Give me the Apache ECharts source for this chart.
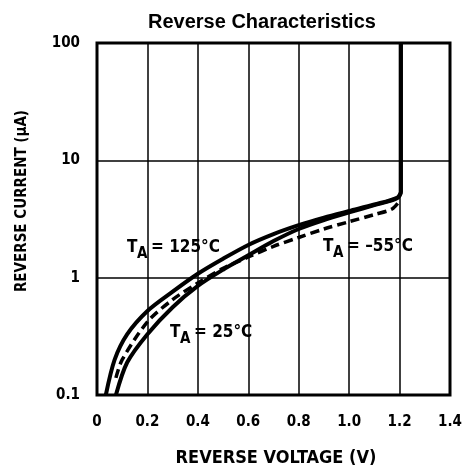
<!DOCTYPE html>
<html>
<head>
<meta charset="utf-8">
<script src="https://cdn.jsdelivr.net/npm/echarts@6/dist/echarts.min.js"></script>
<style>
  html, body { margin: 0; padding: 0; background: #fff; }
  #main { width: 465px; height: 472px; }
</style>
</head>
<body>
<div id="main"></div>
<script>
// values (V, uA)
var v125 = [0.035, 0.07, 0.12, 0.2, 0.3, 0.4, 0.5, 0.6, 0.7, 0.8, 0.9, 1.0, 1.1, 1.19, 1.205, 1.205];
var i125 = [0.1, 0.2, 0.33, 0.52, 0.76, 1.08, 1.45, 1.9, 2.35, 2.8, 3.25, 3.7, 4.2, 4.8, 5.4, 100];

var v25 = [0.075, 0.12, 0.2, 0.3, 0.4, 0.5, 0.6, 0.7, 0.8, 0.9, 1.0, 1.1, 1.19, 1.205, 1.205];
var i25 = [0.1, 0.19, 0.33, 0.56, 0.85, 1.17, 1.55, 2.05, 2.6, 3.1, 3.6, 4.15, 4.75, 5.4, 100];

var vm55 = [0.075, 0.1, 0.2, 0.3, 0.4, 0.5, 0.6, 0.7, 0.8, 0.9, 1.0, 1.1, 1.17, 1.2];
var im55 = [0.14, 0.2, 0.42, 0.65, 0.9, 1.2, 1.5, 1.85, 2.2, 2.6, 3.0, 3.45, 3.85, 4.5];

var xTicks = [0, 0.2, 0.4, 0.6, 0.8, 1.0, 1.2, 1.4];
var yTicks = [0.1, 1, 10, 100];

var font = "'Liberation Sans Narrow', 'DejaVu Sans Condensed', 'Roboto Condensed', 'Liberation Sans', sans-serif";

function pairs(xs, ys) {
  return xs.map(function (x, k) { return [x, ys[k]]; });
}

// "T" with a subscript "A", then the rest of the label
function tLabel(x, y, rest) {
  return {
    type: 'group', x: x, y: y, z: 20,
    children: [
      { type: 'text', x: 0, y: 0, style: { text: 'T', font: 'bold 17px ' + font, fill: '#000' } },
      { type: 'text', x: 10, y: 8, style: { text: 'A', font: 'bold 15px ' + font, fill: '#000' } },
      { type: 'text', x: 24, y: 0, style: { text: rest, font: 'bold 17px ' + font, fill: '#000' } }
    ]
  };
}

var myChart = echarts.init(document.getElementById('main'));
myChart.setOption({
  animation: false,
  title: {
    text: 'Reverse Characteristics',
    left: 143,
    top: 7,
    textStyle: { fontFamily: 'Liberation Sans, Arial, sans-serif', fontWeight: 'bold', fontSize: 20, color: '#000' }
  },
  grid: {
    left: 97, right: 15, top: 43, bottom: 77,
    show: true, borderColor: '#000', borderWidth: 3
  },
  xAxis: {
    type: 'value',
    min: 0, max: 1.4, interval: 0.2,
    axisLine: { show: false },
    axisTick: { show: false },
    splitLine: { show: true, lineStyle: { color: '#000', width: 1.5 } },
    axisLabel: {
      margin: 20,
      color: '#000', fontWeight: 'bold', fontSize: 15, fontFamily: font,
      formatter: function (v) {
        var k = xTicks.indexOf(Math.round(v * 10) / 10);
        return k === 0 ? '0' : xTicks[k].toFixed(1);
      }
    }
  },
  yAxis: {
    type: 'log', logBase: 10,
    min: yTicks[0], max: yTicks[yTicks.length - 1],
    axisLine: { show: false },
    axisTick: { show: false },
    splitLine: { show: true, lineStyle: { color: '#000', width: 1.5 } },
    axisLabel: {
      margin: 17,
      color: '#000', fontWeight: 'bold', fontSize: 15, fontFamily: font,
      formatter: function (v) { return String(v); }
    }
  },
  graphic: [
    {
      type: 'text', x: 22, y: 201, rotation: Math.PI / 2, z: 20,
      style: { text: 'REVERSE CURRENT (μA)', font: 'bold 15px ' + font, fill: '#000', align: 'center', verticalAlign: 'middle' }
    },
    {
      type: 'text', x: 276, y: 458, z: 20,
      style: { text: 'REVERSE VOLTAGE (V)', font: 'bold 18px ' + font, fill: '#000', align: 'center', verticalAlign: 'middle' }
    },
    tLabel(127, 239, '= 125°C'),
    tLabel(170, 324, '= 25°C'),
    tLabel(323, 238, '= –55°C')
  ],
  series: [
    {
      name: 'TA = 125°C', type: 'line', data: pairs(v125, i125),
      showSymbol: false, smooth: 0.3, z: 3,
      lineStyle: { color: '#000', width: 4 }
    },
    {
      name: 'TA = 25°C', type: 'line', data: pairs(v25, i25),
      showSymbol: false, smooth: 0.3, z: 3,
      lineStyle: { color: '#000', width: 4 }
    },
    {
      name: 'TA = -55°C', type: 'line', data: pairs(vm55, im55),
      showSymbol: false, smooth: 0.3, z: 3,
      lineStyle: { color: '#000', width: 3.5, type: [9, 5] }
    }
  ]
});
</script>
</body>
</html>
